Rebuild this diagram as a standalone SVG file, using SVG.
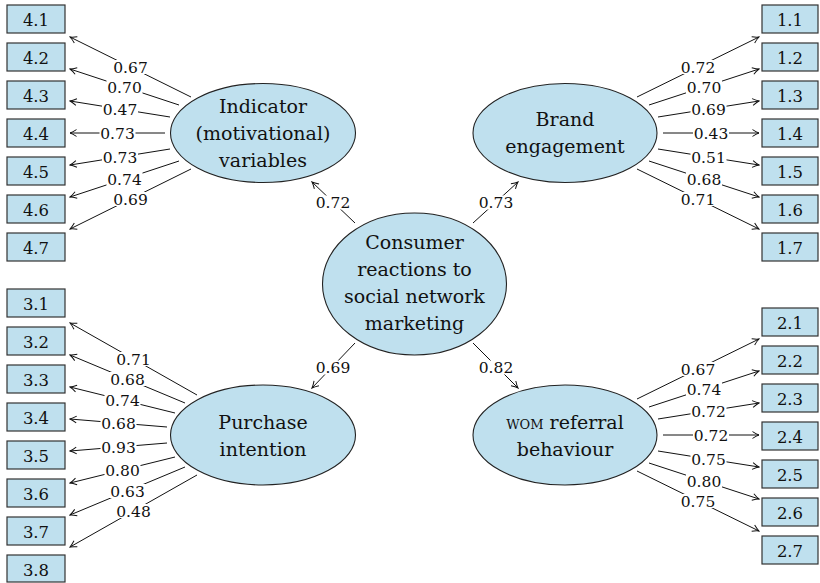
<svg xmlns="http://www.w3.org/2000/svg" width="820" height="583" viewBox="0 0 820 583">
<style>
.ell{fill:#bfe0ee;stroke:#222;stroke-width:1.1}
.box{fill:#bfe0ee;stroke:#333;stroke-width:1.2}
.t{font-family:"DejaVu Serif","Liberation Serif",serif;font-size:19px;fill:#111;text-anchor:middle}
.bt{font-family:"DejaVu Serif","Liberation Serif",serif;font-size:16.5px;fill:#111;text-anchor:middle}
.c{fill:none;stroke:#111;stroke-width:1;marker-end:url(#ah)}
.l{font-family:"DejaVu Serif","Liberation Serif",serif;font-size:15.5px;fill:#111;text-anchor:middle}
.lb{fill:#fff}
</style>
<defs>
<marker id="ah" viewBox="-8 -5 9 10" refX="0" refY="0" markerWidth="9" markerHeight="10" markerUnits="userSpaceOnUse" orient="auto">
<path d="M-6.5,-3.4 Q-2.5,-0.8 0,0 Q-2.5,0.8 -6.5,3.4" fill="none" stroke="#111" stroke-width="1"/>
</marker>
</defs>
<rect width="820" height="583" fill="#fff"/>

<g id="connectors">
<path class="c" d="M355,223 L312,182"/>
<path class="c" d="M473,223 L518,182"/>
<path class="c" d="M355,343 L312,388"/>
<path class="c" d="M473,343 L518,388"/>

<path class="c" d="M191,97 L70,37"/>
<path class="c" d="M179,105 L70,69"/>
<path class="c" d="M170,117 L70,101"/>
<path class="c" d="M165,133 L70,133"/>
<path class="c" d="M170,149 L70,165"/>
<path class="c" d="M179,161 L70,197"/>
<path class="c" d="M191,169 L70,229"/>

<path class="c" d="M637,97 L759,37"/>
<path class="c" d="M649,105 L759,69"/>
<path class="c" d="M658,117 L759,101"/>
<path class="c" d="M663,133 L759,133"/>
<path class="c" d="M658,149 L759,165"/>
<path class="c" d="M649,161 L759,197"/>
<path class="c" d="M637,169 L759,229"/>

<path class="c" d="M197,395 L70,323"/>
<path class="c" d="M185,403 L70,355"/>
<path class="c" d="M175,413 L70,387"/>
<path class="c" d="M167,427 L70,419"/>
<path class="c" d="M167,443 L70,451"/>
<path class="c" d="M175,457 L70,483"/>
<path class="c" d="M185,467 L70,515"/>
<path class="c" d="M197,475 L70,547"/>

<path class="c" d="M637,399 L759,339"/>
<path class="c" d="M649,407 L759,371"/>
<path class="c" d="M658,419 L759,403"/>
<path class="c" d="M663,435 L759,435"/>
<path class="c" d="M658,451 L759,467"/>
<path class="c" d="M649,463 L759,499"/>
<path class="c" d="M637,471 L759,531"/>
</g>

<g id="connector-labels">
<rect class="lb" x="315" y="195.5" width="36" height="14"/><text class="l" x="333" y="208">0.72</text>
<rect class="lb" x="478" y="195.5" width="36" height="14"/><text class="l" x="496" y="208">0.73</text>
<rect class="lb" x="315" y="360.5" width="36" height="14"/><text class="l" x="333" y="373">0.69</text>
<rect class="lb" x="478" y="360.5" width="36" height="14"/><text class="l" x="496" y="373">0.82</text>

<rect class="lb" x="112.5" y="60" width="36" height="14"/><text class="l" x="130.5" y="72.5">0.67</text>
<rect class="lb" x="106.5" y="80" width="36" height="14"/><text class="l" x="124.5" y="92.5">0.70</text>
<rect class="lb" x="102" y="102" width="36" height="14"/><text class="l" x="120" y="114.5">0.47</text>
<rect class="lb" x="99.5" y="126" width="36" height="14"/><text class="l" x="117.5" y="138.5">0.73</text>
<rect class="lb" x="102" y="150" width="36" height="14"/><text class="l" x="120" y="162.5">0.73</text>
<rect class="lb" x="106.5" y="172" width="36" height="14"/><text class="l" x="124.5" y="184.5">0.74</text>
<rect class="lb" x="112.5" y="192" width="36" height="14"/><text class="l" x="130.5" y="204.5">0.69</text>

<rect class="lb" x="680" y="60" width="36" height="14"/><text class="l" x="698" y="72.5">0.72</text>
<rect class="lb" x="686" y="80" width="36" height="14"/><text class="l" x="704" y="92.5">0.70</text>
<rect class="lb" x="690.5" y="102" width="36" height="14"/><text class="l" x="708.5" y="114.5">0.69</text>
<rect class="lb" x="693" y="126" width="36" height="14"/><text class="l" x="711" y="138.5">0.43</text>
<rect class="lb" x="690.5" y="150" width="36" height="14"/><text class="l" x="708.5" y="162.5">0.51</text>
<rect class="lb" x="686" y="172" width="36" height="14"/><text class="l" x="704" y="184.5">0.68</text>
<rect class="lb" x="680" y="192" width="36" height="14"/><text class="l" x="698" y="204.5">0.71</text>

<rect class="lb" x="115.5" y="352" width="36" height="14"/><text class="l" x="133.5" y="364.5">0.71</text>
<rect class="lb" x="109.5" y="372" width="36" height="14"/><text class="l" x="127.5" y="384.5">0.68</text>
<rect class="lb" x="104.5" y="393" width="36" height="14"/><text class="l" x="122.5" y="405.5">0.74</text>
<rect class="lb" x="100.5" y="416" width="36" height="14"/><text class="l" x="118.5" y="428.5">0.68</text>
<rect class="lb" x="100.5" y="440" width="36" height="14"/><text class="l" x="118.5" y="452.5">0.93</text>
<rect class="lb" x="104.5" y="463" width="36" height="14"/><text class="l" x="122.5" y="475.5">0.80</text>
<rect class="lb" x="109.5" y="484" width="36" height="14"/><text class="l" x="127.5" y="496.5">0.63</text>
<rect class="lb" x="115.5" y="504" width="36" height="14"/><text class="l" x="133.5" y="516.5">0.48</text>

<rect class="lb" x="680" y="362" width="36" height="14"/><text class="l" x="698" y="374.5">0.67</text>
<rect class="lb" x="686" y="382" width="36" height="14"/><text class="l" x="704" y="394.5">0.74</text>
<rect class="lb" x="690.5" y="404" width="36" height="14"/><text class="l" x="708.5" y="416.5">0.72</text>
<rect class="lb" x="693" y="428" width="36" height="14"/><text class="l" x="711" y="440.5">0.72</text>
<rect class="lb" x="690.5" y="452" width="36" height="14"/><text class="l" x="708.5" y="464.5">0.75</text>
<rect class="lb" x="686" y="474" width="36" height="14"/><text class="l" x="704" y="486.5">0.80</text>
<rect class="lb" x="680" y="494" width="36" height="14"/><text class="l" x="698" y="506.5">0.75</text>
</g>

<g id="central">
<ellipse class="ell" cx="414.5" cy="284" rx="92" ry="71"/>
<text class="t" x="414.5" y="248.5">Consumer</text>
<text class="t" x="414.5" y="275.5">reactions to</text>
<text class="t" x="414.5" y="302.5">social network</text>
<text class="t" x="414.5" y="329.5">marketing</text>
</g>
<g id="indicator">
<ellipse class="ell" cx="263" cy="133" rx="92.5" ry="49.5"/>
<text class="t" x="263" y="113">Indicator</text>
<text class="t" x="263" y="140">(motivational)</text>
<text class="t" x="263" y="167">variables</text>
</g>
<g id="brand">
<ellipse class="ell" cx="565" cy="133" rx="92" ry="49.5"/>
<text class="t" x="565" y="125.5">Brand</text>
<text class="t" x="565" y="152.5">engagement</text>
</g>
<g id="purchase">
<ellipse class="ell" cx="263" cy="435" rx="92.5" ry="50"/>
<text class="t" x="263" y="429">Purchase</text>
<text class="t" x="263" y="456">intention</text>
</g>
<g id="wom">
<ellipse class="ell" cx="565" cy="435" rx="92" ry="50"/>
<text class="t" x="565" y="429"><tspan font-variant="small-caps">wom</tspan> referral</text>
<text class="t" x="565" y="456">behaviour</text>
</g>

<g id="box-4-1"><rect class="box" x="7" y="5" width="58" height="28"/><text class="bt" x="36" y="25.5">4.1</text></g>
<g id="box-4-2"><rect class="box" x="7" y="43" width="58" height="28"/><text class="bt" x="36" y="63.5">4.2</text></g>
<g id="box-4-3"><rect class="box" x="7" y="81" width="58" height="28"/><text class="bt" x="36" y="101.5">4.3</text></g>
<g id="box-4-4"><rect class="box" x="7" y="119" width="58" height="28"/><text class="bt" x="36" y="139.5">4.4</text></g>
<g id="box-4-5"><rect class="box" x="7" y="157" width="58" height="28"/><text class="bt" x="36" y="177.5">4.5</text></g>
<g id="box-4-6"><rect class="box" x="7" y="195" width="58" height="28"/><text class="bt" x="36" y="215.5">4.6</text></g>
<g id="box-4-7"><rect class="box" x="7" y="233" width="58" height="28"/><text class="bt" x="36" y="253.5">4.7</text></g>

<g id="box-1-1"><rect class="box" x="762" y="5" width="56" height="28"/><text class="bt" x="790" y="25.5">1.1</text></g>
<g id="box-1-2"><rect class="box" x="762" y="43" width="56" height="28"/><text class="bt" x="790" y="63.5">1.2</text></g>
<g id="box-1-3"><rect class="box" x="762" y="81" width="56" height="28"/><text class="bt" x="790" y="101.5">1.3</text></g>
<g id="box-1-4"><rect class="box" x="762" y="119" width="56" height="28"/><text class="bt" x="790" y="139.5">1.4</text></g>
<g id="box-1-5"><rect class="box" x="762" y="157" width="56" height="28"/><text class="bt" x="790" y="177.5">1.5</text></g>
<g id="box-1-6"><rect class="box" x="762" y="195" width="56" height="28"/><text class="bt" x="790" y="215.5">1.6</text></g>
<g id="box-1-7"><rect class="box" x="762" y="233" width="56" height="28"/><text class="bt" x="790" y="253.5">1.7</text></g>

<g id="box-3-1"><rect class="box" x="7" y="289" width="58" height="28"/><text class="bt" x="36" y="309.5">3.1</text></g>
<g id="box-3-2"><rect class="box" x="7" y="327" width="58" height="28"/><text class="bt" x="36" y="347.5">3.2</text></g>
<g id="box-3-3"><rect class="box" x="7" y="365" width="58" height="28"/><text class="bt" x="36" y="385.5">3.3</text></g>
<g id="box-3-4"><rect class="box" x="7" y="403" width="58" height="28"/><text class="bt" x="36" y="423.5">3.4</text></g>
<g id="box-3-5"><rect class="box" x="7" y="441" width="58" height="28"/><text class="bt" x="36" y="461.5">3.5</text></g>
<g id="box-3-6"><rect class="box" x="7" y="479" width="58" height="28"/><text class="bt" x="36" y="499.5">3.6</text></g>
<g id="box-3-7"><rect class="box" x="7" y="517" width="58" height="28"/><text class="bt" x="36" y="537.5">3.7</text></g>
<g id="box-3-8"><rect class="box" x="7" y="555" width="58" height="27"/><text class="bt" x="36" y="575.5">3.8</text></g>

<g id="box-2-1"><rect class="box" x="762" y="308" width="56" height="28"/><text class="bt" x="790" y="328.5">2.1</text></g>
<g id="box-2-2"><rect class="box" x="762" y="346" width="56" height="28"/><text class="bt" x="790" y="366.5">2.2</text></g>
<g id="box-2-3"><rect class="box" x="762" y="384" width="56" height="28"/><text class="bt" x="790" y="404.5">2.3</text></g>
<g id="box-2-4"><rect class="box" x="762" y="422" width="56" height="28"/><text class="bt" x="790" y="442.5">2.4</text></g>
<g id="box-2-5"><rect class="box" x="762" y="460" width="56" height="28"/><text class="bt" x="790" y="480.5">2.5</text></g>
<g id="box-2-6"><rect class="box" x="762" y="498" width="56" height="28"/><text class="bt" x="790" y="518.5">2.6</text></g>
<g id="box-2-7"><rect class="box" x="762" y="536" width="56" height="28"/><text class="bt" x="790" y="556.5">2.7</text></g>
</svg>
